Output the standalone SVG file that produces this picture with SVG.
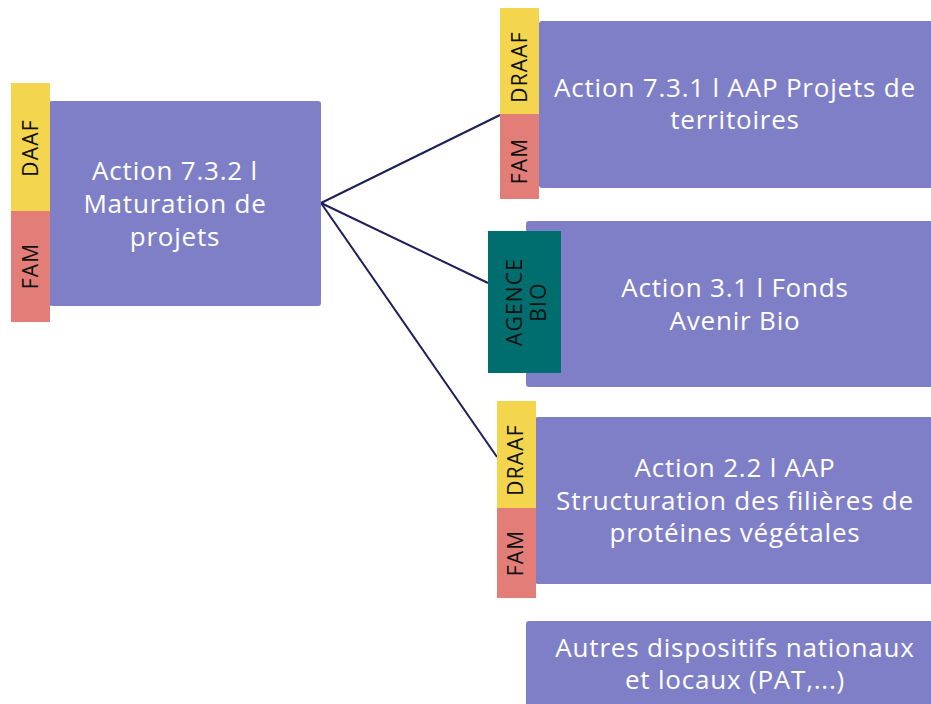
<svg xmlns="http://www.w3.org/2000/svg" width="931" height="704" viewBox="0 0 931 704">
<style>
.box{fill:#7f7fc8}
.y{fill:#f3d54e}
.r{fill:#e27d78}
.t{fill:#006e6e}
.main{font-family:"Open Sans",Lato,sans-serif;font-size:26px;letter-spacing:0.8px;fill:#ffffff;text-anchor:middle}
.tag{font-family:"Open Sans",Lato,sans-serif;font-size:21px;letter-spacing:1.2px;fill:#111111;text-anchor:middle}
.conn{stroke:#1e1e5a;stroke-width:2;fill:none}
</style>
<rect width="931" height="704" fill="#ffffff"/>
<g id="connectors">
<line class="conn" x1="321" y1="203" x2="500" y2="115"/>
<line class="conn" x1="321" y1="203" x2="488" y2="283"/>
<line class="conn" x1="321" y1="203" x2="497" y2="457"/>
</g>
<g id="node-732">
<rect class="box" x="49" y="101" width="272" height="205" rx="3"/>
<rect class="y" x="11" y="83" width="39" height="128"/>
<rect class="r" x="11" y="211" width="39" height="111"/>
<text class="tag" transform="translate(38,148) rotate(-90)">DAAF</text>
<text class="tag" transform="translate(38,266) rotate(-90)">FAM</text>
<text class="main" x="175" y="180">Action 7.3.2 l</text>
<text class="main" x="175" y="213">Maturation de</text>
<text class="main" x="175" y="246">projets</text>
</g>
<g id="node-731">
<rect class="box" x="539" y="21" width="395" height="167" rx="3"/>
<rect class="y" x="500" y="8" width="39" height="106"/>
<rect class="r" x="500" y="114" width="39" height="85"/>
<text class="tag" transform="translate(527,67) rotate(-90)">DRAAF</text>
<text class="tag" transform="translate(527,161) rotate(-90)">FAM</text>
<text class="main" x="735" y="97">Action 7.3.1 l AAP Projets de</text>
<text class="main" x="735" y="129">territoires</text>
</g>
<g id="node-31">
<rect class="box" x="526" y="221" width="408" height="166" rx="3"/>
<rect class="t" x="488" y="231" width="73" height="142"/>
<text class="tag" transform="translate(522,302) rotate(-90)">AGENCE</text>
<text class="tag" transform="translate(546,302) rotate(-90)">BIO</text>
<text class="main" x="735" y="297">Action 3.1 l Fonds</text>
<text class="main" x="735" y="330">Avenir Bio</text>
</g>
<g id="node-22">
<rect class="box" x="535" y="417" width="399" height="167" rx="3"/>
<rect class="y" x="497" y="401" width="39" height="107"/>
<rect class="r" x="497" y="508" width="39" height="90"/>
<text class="tag" transform="translate(523,460) rotate(-90)">DRAAF</text>
<text class="tag" transform="translate(523,553) rotate(-90)">FAM</text>
<text class="main" x="735" y="477">Action 2.2 l AAP</text>
<text class="main" x="735" y="510">Structuration des filières de</text>
<text class="main" x="735" y="542">protéines végétales</text>
</g>
<g id="node-autres">
<rect class="box" x="526" y="621" width="408" height="90" rx="3"/>
<text class="main" x="735" y="657">Autres dispositifs nationaux</text>
<text class="main" x="735" y="689">et locaux (PAT,...)</text>
</g>
</svg>
